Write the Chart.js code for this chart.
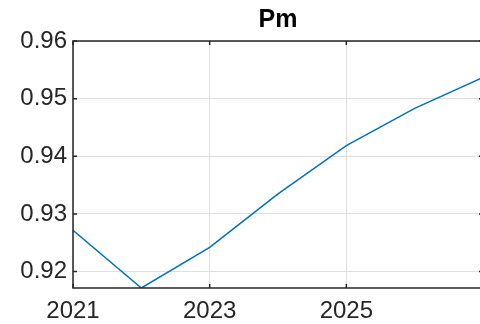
<!DOCTYPE html>
<html lang="en">
<head>
    <meta charset="UTF-8">
    <title>Pm</title>
    <script src="https://cdn.jsdelivr.net/npm/chart.js"></script>
    <style>
        body { margin: 0; padding: 0; background: white; overflow: hidden; }
        canvas { display: block; }
    </style>
</head>
<body>
    <canvas id="pm-chart" width="483" height="324"></canvas>

    <script>
        // data
        const years = [2021, 2022, 2023, 2024, 2025, 2026, 2027];
        const pmValues = [0.92717, 0.91715, 0.92421, 0.93348, 0.94186, 0.9483, 0.9537];
        const xTicks = [2021, 2023, 2025];
        const yTicks = [0.92, 0.93, 0.94, 0.95, 0.96];

        const axisColor = "#262626";
        const gridColor = "#dfdfdf";
        const fontFamily = "'Liberation Sans', Arial, sans-serif";

        // box around the plot + inward ticks, MATLAB style
        const boxPlugin = {
            id: "box",
            afterDraw(chart) {
                const { ctx, chartArea: a, scales } = chart;
                ctx.save();
                ctx.strokeStyle = axisColor;
                ctx.lineWidth = 1.5;
                ctx.strokeRect(a.left, a.top, a.right - a.left, a.bottom - a.top);
                ctx.beginPath();
                yTicks.forEach(v => {
                    const y = scales.y.getPixelForValue(v);
                    ctx.moveTo(a.left, y); ctx.lineTo(a.left + 4, y);
                    ctx.moveTo(a.right, y); ctx.lineTo(a.right - 4, y);
                });
                xTicks.forEach(v => {
                    const x = scales.x.getPixelForValue(v);
                    ctx.moveTo(x, a.bottom); ctx.lineTo(x, a.bottom - 4);
                    ctx.moveTo(x, a.top); ctx.lineTo(x, a.top + 4);
                });
                ctx.stroke();
                ctx.restore();
            }
        };

        new Chart(document.getElementById("pm-chart").getContext("2d"), {
            type: "line",
            data: {
                datasets: [{
                    data: years.map((y, i) => ({ x: y, y: pmValues[i] })),
                    borderColor: "#0072BD",
                    borderWidth: 1.5,
                    pointRadius: 0,
                    fill: false,
                    tension: 0
                }]
            },
            options: {
                responsive: false,
                animation: false,
                devicePixelRatio: 1,
                plugins: {
                    legend: { display: false },
                    tooltip: { enabled: false },
                    title: {
                        display: true,
                        text: "Pm",
                        fullSize: false,
                        color: "#000000",
                        font: { family: fontFamily, size: 25, weight: "bold" },
                        padding: { top: 5, bottom: 6 }
                    }
                },
                scales: {
                    x: {
                        type: "linear",
                        min: 2021,
                        max: 2027,
                        afterBuildTicks: s => { s.ticks = xTicks.map(v => ({ value: v })); },
                        afterFit: s => { s.height = 36; },
                        grid: { color: gridColor, drawTicks: false },
                        border: { display: false },
                        ticks: {
                            color: axisColor,
                            padding: 9,
                            maxRotation: 0,
                            font: { family: fontFamily, size: 24 },
                            callback: v => String(v)
                        }
                    },
                    y: {
                        min: 0.91715,
                        max: 0.96,
                        afterBuildTicks: s => { s.ticks = yTicks.map(v => ({ value: v })); },
                        afterFit: s => { s.width = 73; },
                        grid: { color: gridColor, drawTicks: false },
                        border: { display: false },
                        ticks: {
                            color: axisColor,
                            padding: 6,
                            font: { family: fontFamily, size: 24 },
                            callback: v => v.toFixed(2)
                        }
                    }
                }
            },
            plugins: [boxPlugin]
        });
    </script>
</body>
</html>
